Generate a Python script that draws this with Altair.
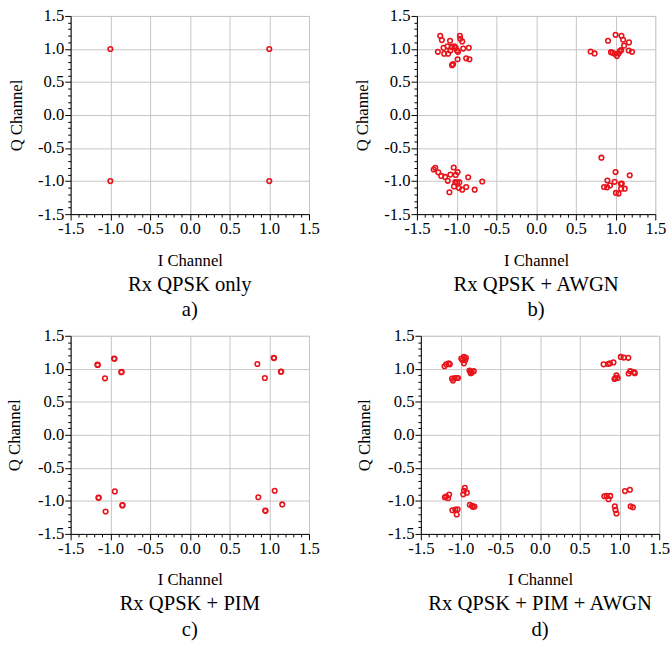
import altair as alt
import pandas as pd

# ---- data ----
a_i = [-1.0, 1.0, -1.0, 1.0]
a_q = [1.0, 1.0, -1.0, -1.0]

b_i = [-1.207, -1.186, -1.236, -1.165, -1.157, -1.116, -1.107, -1.083, -1.079, -1.062, -1.029, -1.045,
       -1.058, -1.012, -0.996, -0.988, -0.983, -0.959, -0.955, -0.930, -0.917, -0.880, -0.847, -0.839,
       0.686, 0.736, 0.905, 0.942, 0.963, 1.000, 0.988, 1.017, 1.037, 1.054, 1.070, 1.074, 1.095, 1.107,
       1.169, 1.165, 1.207,
       -1.289, -1.269, -1.231, -1.194, -1.145, -1.112, -1.079, -1.091, -1.037, -1.033, -1.017, -1.012,
       -0.988, -0.996, -0.967, -0.971, -0.930, -0.880, -0.855, -0.773, -0.678,
       0.822, 0.855, 0.893, 0.897, 0.930, 0.988, 1.000, 1.004, 1.037, 1.066, 1.070, 1.078, 1.116, 1.178]
b_q = [1.200, 1.135, 0.957, 1.017, 0.928, 1.040, 0.928, 1.125, 0.977, 1.031, 1.041, 0.770,
       0.755, 1.017, 0.977, 0.844, 0.957, 1.200, 1.155, 1.115, 1.006, 0.859, 1.017, 0.844,
       0.962, 0.933, 1.125, 0.952, 0.943, 1.214, 0.928, 0.893, 0.933, 0.967, 0.982, 1.200, 1.140, 1.051,
       1.100, 0.977, 0.957,
       -0.824, -0.799, -0.868, -0.922, -0.937, -0.996, -0.902, -1.169, -0.794, -1.080, -1.016, -0.907,
       -0.863, -1.021, -1.016, -1.105, -1.130, -1.090, -0.942, -1.130, -1.006,
       -0.646, -1.090, -1.095, -0.991, -1.065, -1.011, -0.863, -1.179, -1.189, -1.040, -1.115, -1.036, -1.115, -0.912]

c_i = [-1.163, -1.158, -0.953, -0.948, -1.068, -0.862, -0.858,
       0.850, 1.056, 1.060, 0.944, 1.150, 1.146,
       -1.150, -1.146, -0.944, -1.060, -0.850, -0.846,
       0.862, 1.068, 0.953, 0.949, 1.163]
c_q = [1.062, 1.058, 1.156, 1.152, 0.856, 0.949, 0.953,
       1.072, 1.166, 1.162, 0.861, 0.959, 0.955,
       -0.954, -0.950, -0.856, -1.161, -1.068, -1.064,
       -0.945, -0.846, -1.151, -1.147, -1.053]

d_i = [-1.202, -1.181, -1.148, -1.136, -0.991, -0.958, -0.933, -0.975, -0.941, -0.958,
       -1.107, -1.095, -1.074, -1.045, -1.033, -0.888, -0.871, -0.859, -0.834, -0.876,
       0.800, 0.858, 0.879, 0.924, 1.016, 1.053, 1.111, 1.115, 1.135, 1.181, 1.193,
       0.949, 0.962, 0.978, 0.937,
       -1.198, -1.181, -1.144, -1.157, -1.103, -1.066, -1.037, -1.049,
       -0.946, -0.958, -0.921, -0.966, -0.884, -0.855, -0.826, -0.846,
       0.809, 0.838, 0.862, 0.883, 1.069, 1.131, 0.941, 0.949, 0.962, 1.140, 1.169]
d_q = [1.038, 1.067, 1.082, 1.067, 1.156, 1.180, 1.166, 1.131, 1.131, 1.082,
       0.851, 0.821, 0.861, 0.861, 0.861, 0.974, 0.934, 0.949, 0.964, 0.954,
       1.067, 1.072, 1.082, 1.097, 1.180, 1.170, 1.166, 0.929, 0.964, 0.949, 0.934,
       0.861, 0.900, 0.861, 0.846,
       -0.945, -0.935, -0.905, -0.960, -1.142, -1.132, -1.127, -1.206,
       -0.802, -0.846, -0.876, -0.901, -1.058, -1.073, -1.088, -1.093,
       -0.930, -0.925, -0.974, -0.925, -0.851, -0.831, -1.083, -1.137, -1.191, -1.083, -1.097]

captions = [["Rx QPSK only", "a)"], ["Rx QPSK + AWGN", "b)"],
            ["Rx QPSK + PIM", "c)"], ["Rx QPSK + PIM + AWGN", "d)"]]
tick_values = [round(k / 10, 1) for k in range(-15, 16)]

RED = "#e8141c"
FONT = "Liberation Serif"
MAJOR = "abs(datum.value*2 - round(datum.value*2)) < 0.001"
LABEL = f"{MAJOR} ? ((datum.value < -0.001 ? '-' : '') + format(abs(datum.value), '.1f')) : ''"


def axis(title, title_pad):
    return alt.Axis(
        title=title,
        values=tick_values,
        labelExpr=LABEL,
        tickSize={"condition": {"test": MAJOR, "value": 6}, "value": 3},
        gridOpacity={"condition": {"test": MAJOR, "value": 1}, "value": 0},
        grid=True,
        gridColor="#c4c4c4",
        gridWidth=1,
        domainColor="#000000",
        tickColor="#000000",
        labelColor="#000000",
        titleColor="#000000",
        labelFont=FONT,
        titleFont=FONT,
        labelFontSize=17,
        titleFontSize=17,
        titleFontWeight="normal",
        labelPadding=1,
        titlePadding=title_pad,
        labelFlush=False,
        labelOverlap=False,
    )


def panel(xs, ys, cap, ypad):
    df = pd.DataFrame({"I": xs, "Q": ys})
    return (
        alt.Chart(df)
        .mark_point(shape="circle", filled=False, color=RED, size=22, strokeWidth=1.6, opacity=1)
        .encode(
            x=alt.X("I:Q", scale=alt.Scale(domain=[-1.5, 1.5], nice=False, zero=False),
                    axis=axis("I Channel", 16)),
            y=alt.Y("Q:Q", scale=alt.Scale(domain=[-1.5, 1.5], nice=False, zero=False),
                    axis=axis("Q Channel", ypad)),
        )
        .properties(
            width=243,
            height=202,
            title=alt.TitleParams(
                text=cap, orient="bottom", anchor="middle", font=FONT, fontSize=21,
                fontWeight="normal", lineHeight=26, color="#000000", offset=6,
            ),
        )
    )


top = alt.hconcat(panel(a_i, a_q, captions[0], 12), panel(b_i, b_q, captions[1], 12), spacing=33)
bottom = alt.hconcat(panel(c_i, c_q, captions[2], 14), panel(d_i, d_q, captions[3], 14), spacing=35)
chart = (
    alt.vconcat(top, bottom, spacing=5)
    .properties(padding={"left": 5, "top": 0, "right": 0, "bottom": 0})
    .configure_view(stroke="#555555", strokeWidth=2)
    .configure(background="white")
)

chart.save("out.html", embed_options={"renderer": "svg", "actions": False})
